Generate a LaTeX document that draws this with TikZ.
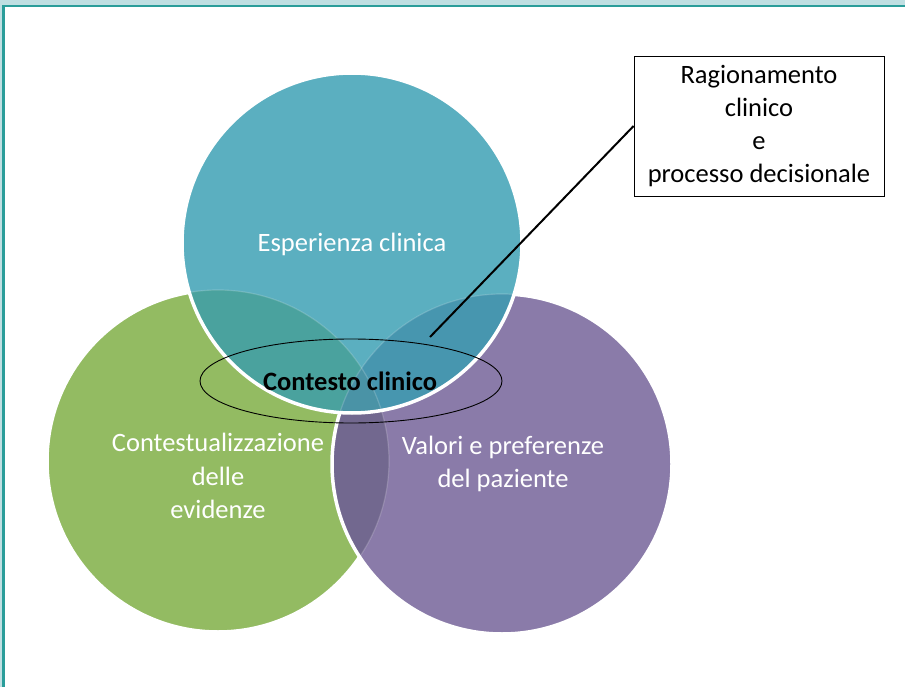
\documentclass[tikz,border=0pt]{standalone}
\usepackage{fontspec}
\setmainfont{Carlito}
\definecolor{cblue}{HTML}{5BAFC0}
\definecolor{cgreen}{HTML}{93BB62}
\definecolor{cpurple}{HTML}{8A7BA9}
\definecolor{cbg}{HTML}{4AA29E}
\definecolor{cbp}{HTML}{4796AF}
\definecolor{cgp}{HTML}{72688F}
\definecolor{cbgp}{HTML}{4A93A6}
\definecolor{frameteal}{HTML}{2A9D9A}
\definecolor{framelight}{HTML}{BFDFE2}
\tikzset{
  ring/.style={draw=white, line width=3.5pt},
  faint/.style={draw=white, draw opacity=0.18, line width=1.2pt},
  wlabel/.style={text=white, font=\fontsize{26.5}{33.5}\selectfont, align=center},
  callout/.style={draw=black, line width=0.8pt, fill=white, minimum width=250pt, minimum height=140pt, inner sep=0pt, align=center, font=\fontsize{26.5}{32.7}\selectfont}
}
\begin{document}
\begin{tikzpicture}[x=1pt,y=1pt]
\useasboundingbox (0,0) rectangle (905,-687);
\fill[white] (0,0) rectangle (905,-687);
% frame
\fill[framelight] (0,0) rectangle (905,-5);
\fill[framelight] (0,0) rectangle (3,-687);
\draw[frameteal, line width=2.5pt] (3.5,-687) -- (3.5,-6.2) -- (905,-6.2);
% circles
\def\Gc{(218,-461) circle[radius=171]}
\def\Pc{(502,-464) circle[radius=170]}
\def\Bc{(352,-243) circle[radius=170]}
\fill[cgreen] \Gc;
\draw[ring] \Gc;
\fill[cpurple] \Pc;
\begin{scope}
  \clip \Gc;
  \fill[cgp] \Pc;
\end{scope}
\draw[faint] \Gc;
\draw[ring] \Pc;
\fill[cblue] \Bc;
\begin{scope}
  \clip \Bc;
  \fill[cbg] \Gc;
  \fill[cbp] \Pc;
  \clip \Gc;
  \fill[cbgp] \Pc;
\end{scope}
\begin{scope}
  \clip \Bc;
  \draw[faint] \Gc;
  \draw[faint] \Pc;
\end{scope}
\draw[ring] \Bc;
% labels
\node[wlabel] (esp) at (352,-244) {Esperienza clinica};
\node[wlabel] (cont) at (218,-476) {Contestualizzazione\\delle\\evidenze};
\node[wlabel] (val) at (503,-464) {Valori e preferenze\\del paziente};
% ellipse
\draw[black, line width=0.9pt] (351,-381) ellipse[x radius=151, y radius=42];
\node[font=\fontsize{26.5}{30}\selectfont\bfseries, text=black] (ctx) at (350,-381) {Contesto clinico};
% callout
\node[callout] (box) at (759,-126) {Ragionamento\\clinico\\e\\processo decisionale};
\coordinate (tip) at (430,-337);
\draw[black, line width=2pt] (box.west) -- (tip);
\end{tikzpicture}
\end{document}
